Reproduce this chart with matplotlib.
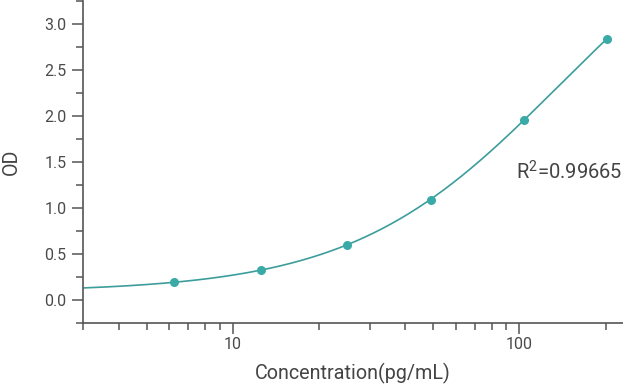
import numpy as np
import matplotlib
matplotlib.use("Agg")
import matplotlib.pyplot as plt
from matplotlib.ticker import LogLocator, FixedLocator, NullFormatter, FuncFormatter

# standard points
conc = np.array([6.25, 12.5, 25, 49, 104, 202])
od = np.array([0.188, 0.323, 0.601, 1.087, 1.960, 2.837])
r2_text = "R$^2$=0.99665"

xlim = (3.0, 230)
ylim = (-0.25, 3.25)


def four_pl(x, p):
    a, b, logc, d = p
    return d + (a - d) / (1 + (x / np.exp(logc)) ** b)


def fit_4pl(x, y, p0):
    # small Levenberg-Marquardt fit, no scipy needed
    p = np.array(p0, dtype=float)
    lam = 1e-3
    for _ in range(500):
        r = y - four_pl(x, p)
        J = np.zeros((len(x), len(p)))
        for k in range(len(p)):
            dp = np.zeros_like(p)
            dp[k] = 1e-6 * max(1.0, abs(p[k]))
            J[:, k] = (four_pl(x, p + dp) - four_pl(x, p)) / dp[k]
        A = J.T @ J
        g = J.T @ r
        step = np.linalg.solve(A + lam * np.diag(np.diag(A)), g)
        if np.sum((y - four_pl(x, p + step)) ** 2) < np.sum(r ** 2):
            p = p + step
            lam /= 3
        else:
            lam *= 3
    return p


popt = fit_4pl(conc, od, [0.1, 1.2, np.log(150), 5.0])
x_line = np.logspace(np.log10(xlim[0]), np.log10(conc.max()), 300)

plt.rcParams["font.family"] = ["Roboto", "DejaVu Sans"]
plt.rcParams["mathtext.fontset"] = "custom"
plt.rcParams["mathtext.rm"] = "Roboto"
plt.rcParams["mathtext.it"] = "Roboto"
plt.rcParams["mathtext.default"] = "regular"
text_col = "#444444"
axis_col = "#555555"

fig = plt.figure(figsize=(6.23, 3.84), dpi=100)
ax = fig.add_axes([0.1332, 0.1596, 0.8668, 0.8377])

ax.plot(x_line, four_pl(x_line, popt), color="#3d9d9c", lw=1.2, zorder=2)
ax.plot(conc, od, "o", color="#3aaaa6", ms=6.5, mec="none", zorder=3)

ax.set_xscale("log")
ax.set_xlim(*xlim)
ax.set_ylim(*ylim)

ax.xaxis.set_major_locator(FixedLocator([10, 100]))
ax.xaxis.set_major_formatter(FuncFormatter(lambda v, pos: f"{v:g}"))
ax.xaxis.set_minor_locator(LogLocator(base=10, subs=np.arange(2, 10)))
ax.xaxis.set_minor_formatter(NullFormatter())
ax.set_yticks(np.arange(0, 3.01, 0.5))
ax.set_yticks(np.arange(-0.25, 3.26, 0.5), minor=True)
ax.yaxis.set_major_formatter(FuncFormatter(lambda v, pos: f"{v:.1f}"))

for s in ["top", "right"]:
    ax.spines[s].set_visible(False)
for s in ["left", "bottom"]:
    ax.spines[s].set_color(axis_col)
    ax.spines[s].set_linewidth(1.2)

ax.tick_params(which="major", length=8, width=1.1, color=axis_col,
               labelsize=11.5, labelcolor="#4a4a4a", pad=4)
ax.tick_params(axis="x", which="major", pad=2)
ax.tick_params(which="minor", length=5, width=1.1, color=axis_col)

ax.set_xlabel("Concentration(pg/mL)", fontsize=14.2, color=text_col, labelpad=8.5)
ax.set_ylabel("OD", fontsize=14.2, color=text_col, labelpad=17)

ax.text(0.802, 0.468, r2_text, transform=ax.transAxes, fontsize=14.5,
        color=text_col, va="center", ha="left")

fig.savefig("out.png", dpi=100)
